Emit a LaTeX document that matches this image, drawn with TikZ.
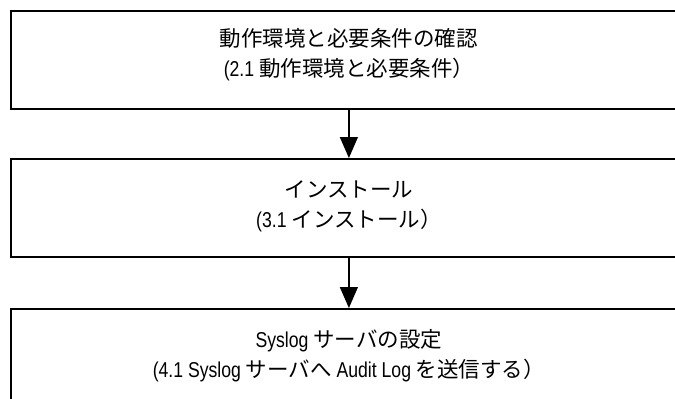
\documentclass[tikz,border=0pt]{standalone}
\usepackage{fontspec}
\setmainfont[FakeStretch=0.82]{Liberation Sans}
\newfontfamily\jpf{Noto Sans CJK JP}
\usetikzlibrary{arrows.meta}
\tikzset{
  stepbox/.style={draw=black, line width=1.8pt, rectangle, minimum width=676pt, minimum height=98pt, inner sep=0pt, anchor=north west},
  steptext/.style={align=center, inner sep=0pt, font=\fontsize{21.5}{30}\selectfont},
  flow/.style={line width=1.3pt, -{Triangle[width=18pt,length=21pt]}}
}
\begin{document}
\begin{tikzpicture}[x=1pt,y=1pt]
\useasboundingbox (0,0) rectangle (675,-399);
\clip (0,0) rectangle (675,-399);
\node[stepbox] (b1) at (10,-10) {};
\node[stepbox] (b2) at (10,-158) {};
\node[stepbox] (b3) at (10,-308) {};
\node[steptext] (t1) at ([yshift=5.5pt]b1.center) {{\jpf 動作環境と必要条件の確認}\\(2.1 {\jpf 動作環境と必要条件）}};
\node[steptext] (t2) at ([yshift=2pt]b2.center) {{\jpf インストール}\\(3.1 {\jpf インストール）}};
\node[steptext] (t3) at ([yshift=2pt]b3.center) {Syslog {\jpf サーバの設定}\\(4.1 Syslog {\jpf サーバへ} Audit Log {\jpf を送信する）}};
\draw[flow] (b1.south) -- (b2.north);
\draw[flow] (b2.south) -- (b3.north);
\end{tikzpicture}
\end{document}
